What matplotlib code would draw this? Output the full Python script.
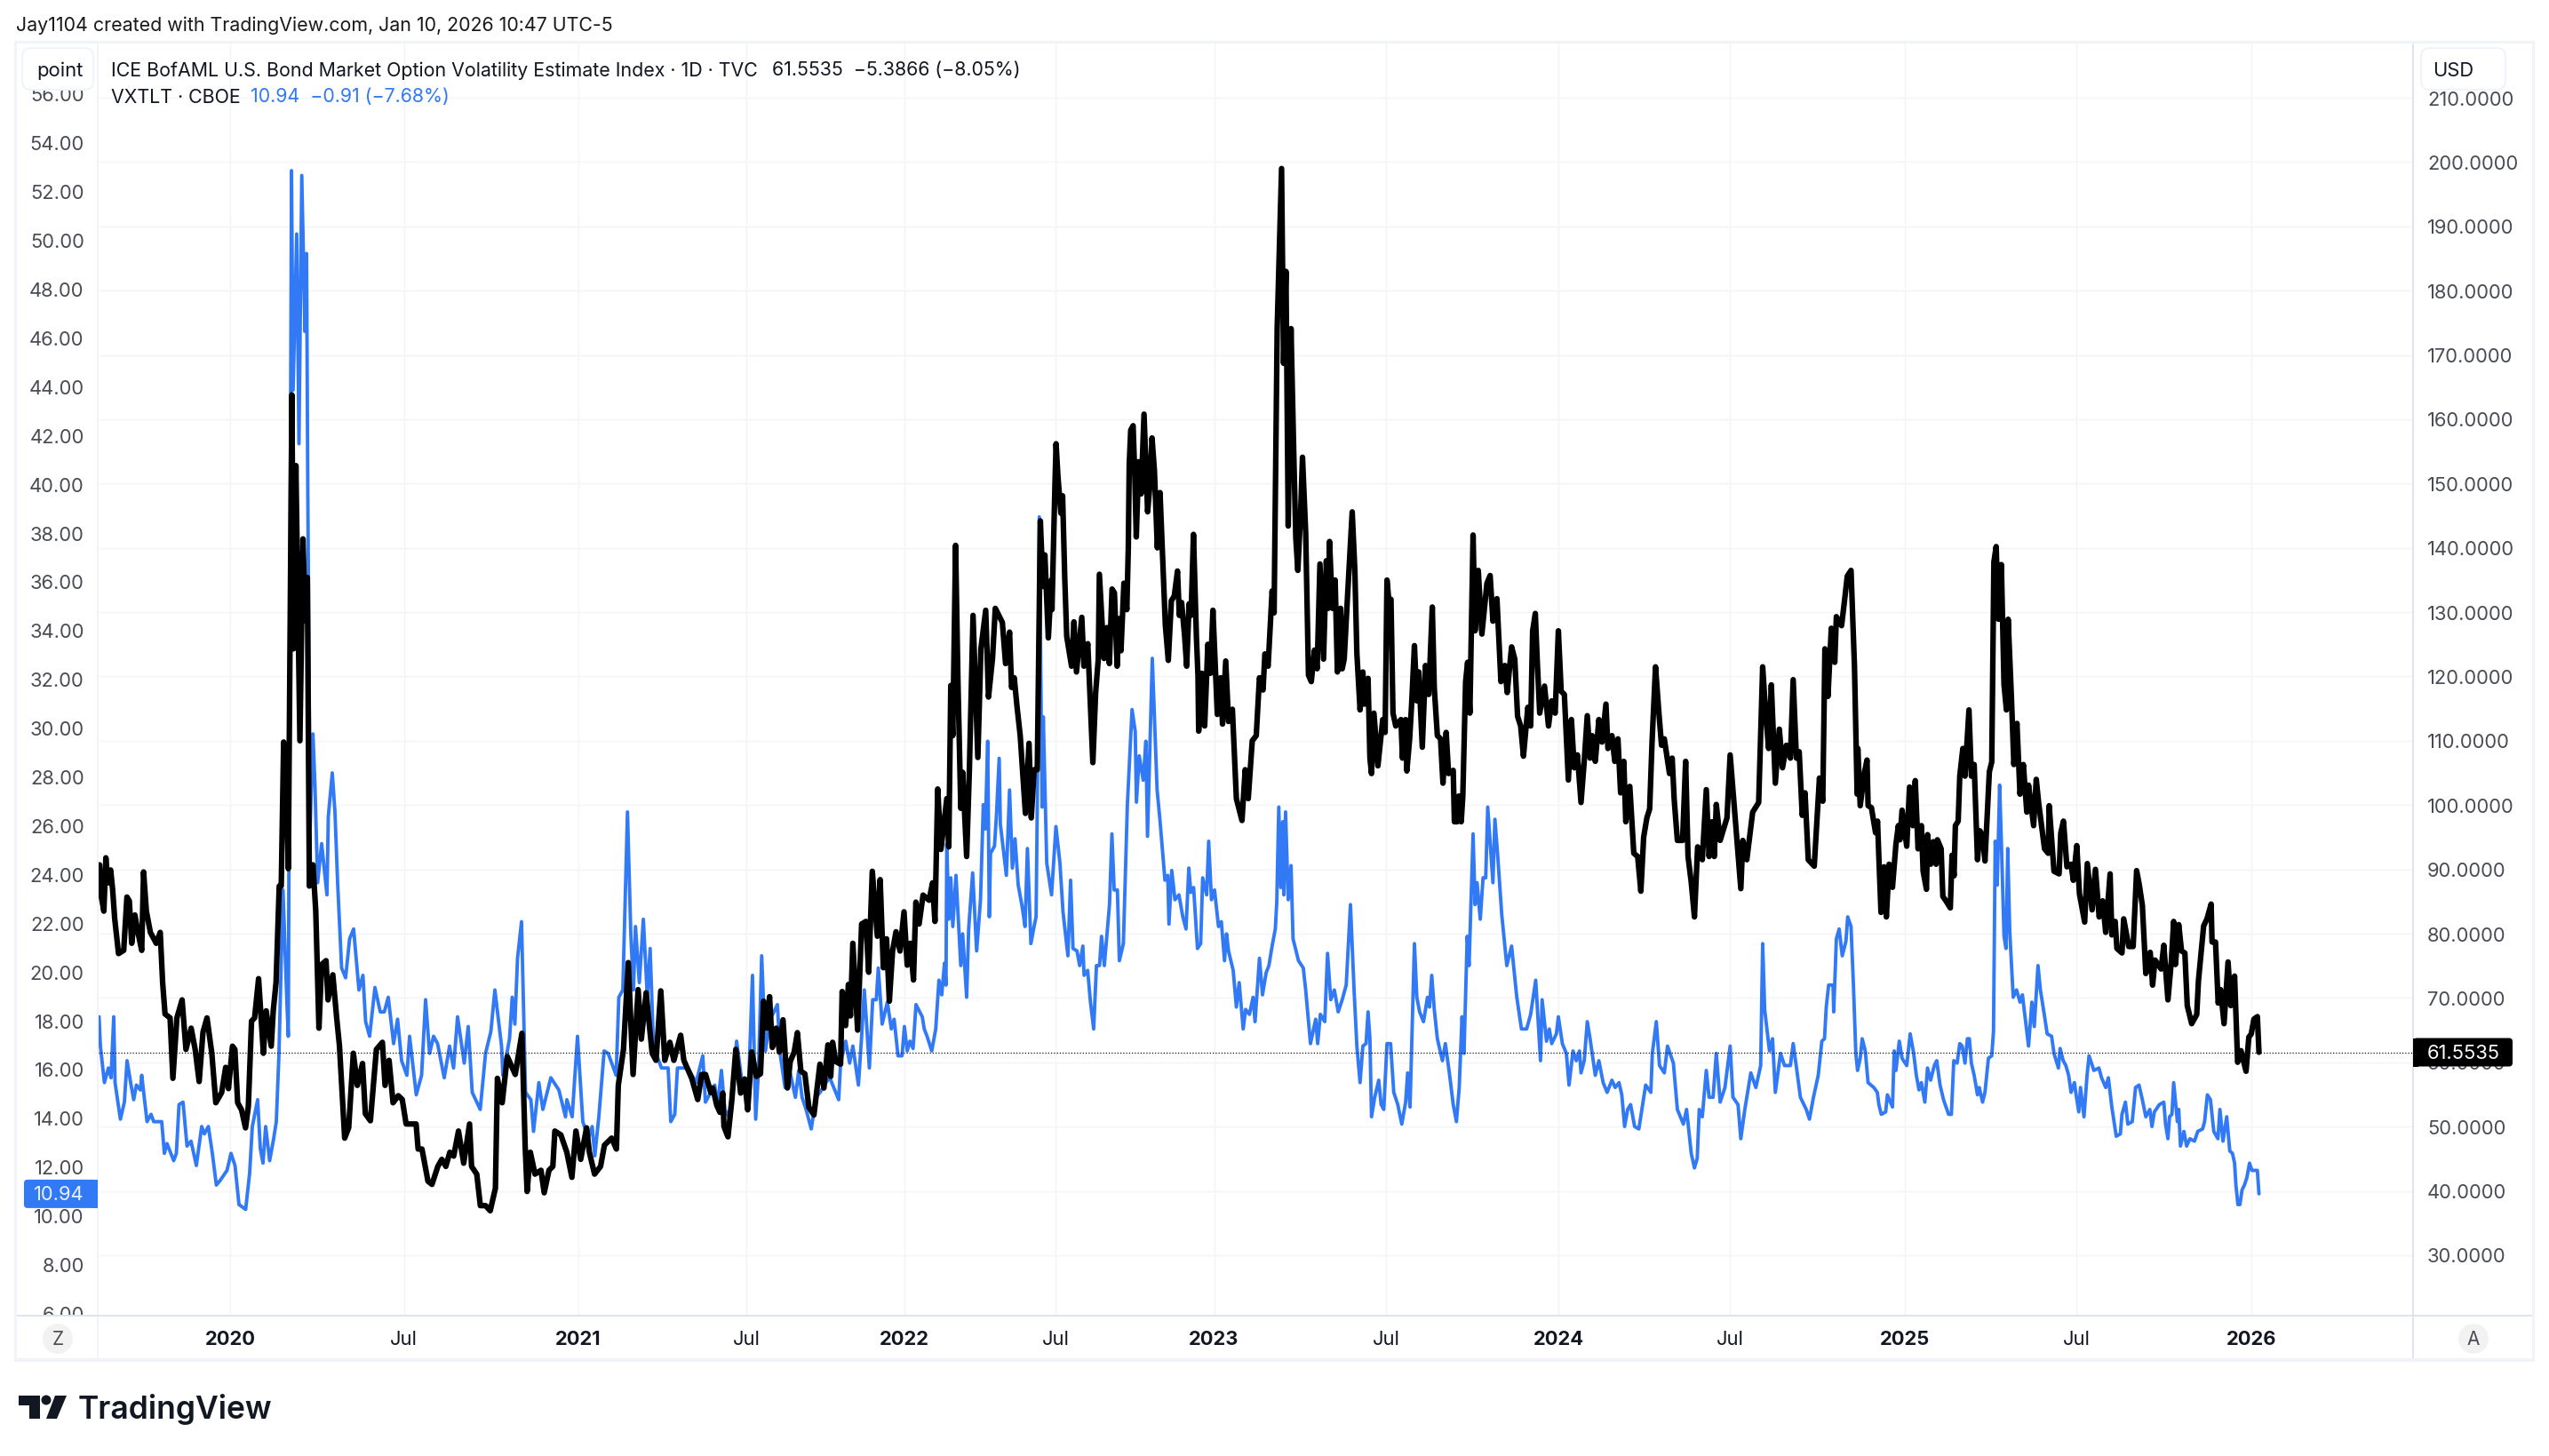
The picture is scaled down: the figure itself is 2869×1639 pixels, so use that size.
import matplotlib
matplotlib.use("Agg")
import matplotlib.pyplot as plt
from matplotlib.patches import Rectangle, FancyBboxPatch, Ellipse, Polygon
from matplotlib.transforms import ScaledTranslation

W, H = 2869, 1640

# ---------- data: (trading bar, value) ----------
black_2019_20 = [(1.4,90.7),(2.3,86.2),(4.6,83.5),(6.1,91.8),(7.6,87.9),(9.7,89.9),(11.2,86.8),(12.7,82.4),(15.6,76.9),(19.5,77.4),(21.9,85.7),(23.7,85.1),(25.5,78.5),(27.9,82.9),(30.2,80.2),(33,77.4),(34.4,89.6),(36.5,83.5),(39.5,80.2),(43.9,78.5),(46.9,80.2),(48.7,72.4),(50.5,67.5),(54.3,66.9),(56.4,57.5),(59.4,66.9),(63.3,69.7),(66.2,62),(70.1,65.3),(73.1,62),(76.1,57),(79,64.7),(82,66.9),(85.6,61.4),(88.6,53.7),(93,55.3),(96,59.2),(98.1,55.9),(101.1,62.5),(102.9,62),(105,53.7),(107.9,52.6),(110.9,49.8),(113,53.1),(115.4,66.4),(117.7,66.9),(120.7,73),(124.3,61.4),(126.4,68),(130.2,62.5),(131.7,68),(133.8,72.4),(136.2,87.4),(137.7,87.4),(139.5,109.8),(141.2,107.8),(143,90.1),(145.7,163.8),(146.9,124.3),(148.7,152.8),(151.7,110),(154,141.4),(155.8,128.7),(157.3,135.4),(158.8,87.4),(161.5,90.7),(163.6,83.5),(166,65.3),(168,75.2),(171.3,75.8),(172.8,69.7),(176.4,73.6),(179.3,66.9),(181.4,62.5),(185.3,48.2),(188.3,49.8),(191.8,61.4),(194.8,56.4),(198.7,59.8),(200.8,52),(204.6,50.9),(209.1,62),(213.6,63.1),(215.6,56.4),(218.6,60.3),(221.6,53.7),(225.5,54.8),(228.5,54.2),(231.4,50.4),(238.9,50.4),(240.4,46.5),(243.3,46.5),(247.8,41.5),(250.8,41),(255.2,43.8),(258.2,44.9),(261.2,43.8),(264.2,46),(267.1,45.4),(270.7,49.3),(274.6,44.3),(279,50.4),(280.5,43.8),(284.4,42.6),(287.1,37.7),(291,37.7),(294.5,36.9),(298.4,40.4),(299.9,57.5),(303.5,53.7),(307.3,60.9),(313.3,58.1),(318.3,64.5),(320.7,47.1),(322.2,39.9),(324.6,46),(328.1,42.6),(332.6,43.2),(335,39.7),(338.6,43.2),(341.5,43.8),(343,49.3),(347.5,48.7),(352,46),(355.8,42.1),(358.8,49.3),(362.4,44.9),(366.8,49.8),(368.9,46),(372.8,42.6),(377.3,43.8),(380.2,47.1),(385.6,48.2),(389.2,46.5),(390.6,56.4),(394.5,62),(398.1,75.5),(401.7,58.1),(405.5,71.3),(407.9,63.6),(411.5,70.8),(416,61.4),(418.9,60.3),(422.5,71.1),(425.5,60.3),(429.3,63.1),(432.3,60.3),(437.4,64.2),(439.8,60.3),(445.7,57.5),(450.2,54.2),(453.2,58.1),(456.1,58.1),(460,55.3)]

black_2021_22 = [(461.5,56),(464.5,53.3),(466.9,52.2),(469,55.2),(469.9,50),(472.9,48.4),(475.8,54.1),(478.8,62),(482.4,55.2),(485.4,57.4),(487.7,52.6),(490.7,61.6),(494.3,57.8),(497.3,58.2),(499.6,69.5),(502,65.3),(504.1,70.2),(506.2,62.3),(509.2,65.3),(511.5,61.6),(514.2,66.6),(517.5,56),(519.6,60.1),(522.6,61.6),(525,64.6),(527.6,58.6),(530.6,58.2),(533.6,53),(537.4,51.8),(541.9,59.7),(544.9,56),(547.9,62.7),(550,57.8),(551.4,63.1),(553.8,60.1),(557.4,59.7),(558.6,71),(561.2,65.7),(563.3,72.1),(564.8,67.2),(566.6,78.5),(570.2,65),(573.2,81.5),(576.4,81.9),(578.5,74),(581.2,89.7),(585,79.6),(587.1,88.4),(589.5,74.7),(591.9,79.2),(594,69.5),(596.4,77.3),(599,80.3),(602,77.3),(605,83.4),(607.4,75.1),(609.8,78.5),(612.1,72.8),(613.9,84.9),(616.3,81.5),(619.3,86),(623.8,85.2),(626.4,87.9),(628.2,81.9),(630.3,102.5),(632.7,93.1),(637.1,101),(638.6,93.5),(640.1,118.6),(641.6,110.8),(643.7,140.4),(645.5,119),(647.6,99.5),(649,105.1),(652,92),(654.1,105.9),(656.8,129.5),(660.4,107.4),(662.7,124.3),(666.3,130.3),(668.4,116.8),(671.4,122.8),(673.5,130.6),(678.8,128.4),(681.2,122),(684.2,126.9),(685.7,118.3),(687.7,119.8),(689.8,115.3),(692.2,110.8),(696.1,98.7),(698.8,109.6),(700.5,98),(702.6,105.5),(705,105.5)]

black_2022_23 = [(707.3,144.2),(709.3,134),(710.7,138.9),(713.3,126),(715.6,135),(716,130.4),(718.2,149.3),(719.1,156.2),(720.5,151.1),(722.7,145.4),(724,148.1),(725.6,135.4),(727.1,126.2),(730.7,121.6),(732.5,128.5),(734.4,120.7),(738.4,129.2),(740,121.6),(742.9,125.1),(746.7,106.6),(748.8,117.5),(750.8,122.8),(751.6,135.9),(755.1,122.8),(757.3,127.6),(759.1,122),(761.1,133.6),(762.9,133),(764.9,121.6),(766.2,129),(767.8,124),(770,134.5),(772.2,130.4),(773.3,140),(774,153),(775.1,158.3),(776.9,159),(778.2,151),(779.3,141.7),(781.1,153.4),(782.9,148.4),(785.1,160.8),(787.8,145.6),(789.3,149.3),(791.1,157.1),(792.9,152),(795.1,140),(797.1,148.6),(799.6,135.5),(801.1,128),(803.3,122.5),(805.6,131.8),(807.8,132.5),(810.2,136.4),(811.6,129.5),(813.3,131.5),(815.6,126.2),(817.1,121.6),(818.9,131.3),(820.4,129.5),(822.2,142.1),(824.4,126.2),(825.6,120),(826.1,111.5),(828.5,120.5),(830.6,112.3),(833,125),(835,120.5),(836.8,130.3),(840.1,114.1),(842.5,119.8),(844,112.6),(846.4,122.4),(848.5,113),(851.4,114.9),(854.4,101),(858.6,97.6),(861,105.5),(863.3,101),(866.3,110),(869.3,110.8),(871.7,119.8),(874.4,117.9),(875.8,123.5),(878.2,121.6),(881.2,133.3),(882.7,129.9),(885,174.1),(888.3,199),(889.8,168.7),(891.6,183),(893.3,143.4),(895.4,174.1),(897.5,154.3),(899,141.5),(900.5,136.5),(902.6,145.4),(904,154.1),(906.4,142.4),(908.5,120.2),(910.6,119.2),(913,124.1),(915,121.2),(917.1,137.5),(919.8,122.7),(921.9,138),(923.4,130.6),(924.3,141),(926.4,130.6),(928.5,135),(930.2,120.7),(932.6,130.6),(933.8,121.2),(935.3,122.7),(937.7,132.1),(941.3,145.6),(943.3,136.5),(944.8,123.6),(947.2,114.8),(949.3,120.7),(950.5,115.7),(953.2,119.7),(954.6,107.3),(955.8,104.9),(957.6,114.3),(960.6,106.1),(964.2,113.3),(966,111.3),(967.4,135),(968.9,131.6),(970.4,132),(971.9,114.3),(974,112.3),(977.9,113.3),(979,107.3),(981.4,113.3),(982.3,105.3),(984.4,110.3),(985.9,115.7),(988,124.8),(989.8,116.2),(991.3,120.7),(993.9,109),(996.3,121.7),(998.7,117.2),(1001.4,130.8),(1002.9,118.2),(1005.2,110.8),(1007.6,110.3),(1009.4,103.4),(1011.8,111.3),(1013.6,104.9),(1017.1,105.4),(1018,97.4),(1020.1,97.4),(1021.3,101.4),(1023.1,97.4),(1024.3,101.4),(1026.4,119.2),(1027.9,122.2),(1029.6,114.3),(1032,142),(1033.5,127.1),(1035.9,136.5),(1038.6,126.6),(1042.4,134.5),(1044.8,135.7),(1046.9,128.6),(1049.9,132.1),(1052.9,119.2),(1055.8,121.7),(1057.6,117.5),(1060.9,124.6),(1063.3,122.7),(1065.4,113.8),(1067.7,112.3),(1069.8,107.6),(1073.1,115.2),(1075.2,112.3),(1076.7,127.1),(1078.7,129.8),(1080.2,122.2),(1082,114.3),(1085.6,118.5),(1088.6,112.3),(1090.9,116.2),(1093.6,114.3)]

black_2024 = [(1096,127.1),(1098.1,117.7),(1100.5,117.2),(1103.5,103.9),(1105.8,113.3),(1107.9,105.8),(1110.3,107.8),(1113,100.4),(1115.4,106.8),(1117.7,113.9),(1119.8,107.3),(1121.3,110.8),(1123.7,106.8),(1126.4,113.3),(1128.8,109.8),(1131.7,115.7),(1133.2,108.8),(1136.2,110.8),(1138.3,106.8),(1140.7,110.3),(1142.7,101.9),(1145.1,106.8),(1146.6,97.4),(1149.6,102.9),(1152.6,92.5),(1155.5,92),(1157.9,86.6),(1160,95),(1162.4,98),(1164.5,99.4),(1166.3,109.8),(1168.9,121.5),(1171.3,114.7),(1173.4,109.3),(1175.5,110.3),(1179.4,104.9),(1181.4,107.3),(1182.9,100.9),(1185.3,94.5),(1189.2,94.5),(1191.5,106.8),(1193.3,92),(1195.7,88),(1198.1,82.6),(1200.5,93.5),(1204,91.5),(1207,102.4),(1209.1,92),(1211.2,97.4),(1213,92),(1214.5,100.1),(1217.4,94.5),(1222.5,98),(1224.9,107.8),(1228.5,98.4),(1232.9,87),(1234.4,94.5),(1237.4,91.5),(1241.8,98.9),(1246.3,100.4),(1249.3,121.5),(1251.7,113.8),(1253.8,108.8),(1255.8,118.7),(1258.8,103.4),(1261.8,111.8),(1264.2,105.8),(1267.1,109.3),(1270.1,107.3),(1272.2,119.5),(1274.6,107.3),(1276.7,108.3),(1279,98.4),(1281.1,101.9),(1283.5,91.5),(1288,90.5),(1291.9,104.2),(1294.4,100.6),(1296,124.3),(1298.3,116.9),(1300.8,127.5),(1303.4,122.2),(1304.6,129.3),(1308.5,127.9),(1310.5,131.4),(1312.8,135.6),(1315.6,136.5),(1318.2,121.5),(1320.2,101.7),(1320.7,108.8),(1322.5,99.9),(1325.8,105.2),(1327.6,107),(1328.4,99.9),(1330.9,99.6),(1334,95.7),(1335.5,97.5),(1336.5,91.8),(1338.1,83.3),(1340.4,90.4),(1342.1,82.6),(1344.2,90.8),(1346.7,87.2),(1349.3,93.9),(1351.1,96.8),(1352.3,94.6),(1353.9,99.2)]

black_2025 = [(1357.4,93.6),(1359.5,102.8),(1362,96.8),(1363.8,103.8),(1365.9,93.2),(1368.4,96.8),(1369.7,89.7),(1372.2,86.9),(1373,95.4),(1375.3,90.8),(1377.3,94.3),(1379.4,90.8),(1380.4,94.6),(1383.2,93.2),(1384.5,85.8),(1386.8,85.1),(1390.1,84),(1391.4,92.2),(1392.9,89),(1393.9,96.8),(1396,97.5),(1397.2,104.5),(1399.5,108.8),(1401.1,104.5),(1404.1,114.8),(1405.9,104.5),(1408,106.3),(1410.5,91.5),(1412.3,96),(1414.3,95.3),(1416.1,91.3),(1419.4,105.2),(1421.2,106.7),(1422.8,137.8),(1424.5,140.2),(1426.3,128.9),(1428.4,137.4),(1430.4,118.7),(1432.2,114.8),(1433.5,128.9),(1436,116.5),(1437.8,106.3),(1440.1,112.7),(1442.4,101.7),(1444.9,106.3),(1447.5,98.9),(1448.8,103.1),(1452.6,96.8),(1454.6,104),(1456.4,100.3),(1460.8,93.2),(1463.6,92.5),(1464.3,99.9),(1467.9,89.7),(1471.7,89.3),(1473,95.7),(1475,97.5),(1477.6,90.4),(1480.7,90.8),(1482.4,88.3),(1485,93.7),(1487,86.2),(1490.9,81.8),(1492.9,90.9),(1496.5,83.7),(1499,90),(1501.8,82.6),(1504.4,85.1),(1506.7,80.2),(1510,89.3),(1511.3,79.8),(1513.8,81.9),(1515.1,77.7),(1518.9,77),(1520.2,82.3),(1524,78),(1527.3,78),(1529.9,89.8),(1531.9,87.6),(1534.2,84.4),(1536.8,73.8),(1540.1,77.1),(1541.9,72),(1543.7,75.9),(1548.3,74.5),(1550.3,78.2),(1553.4,69.7),(1555.9,75.6),(1557.7,81.9),(1559,75.2),(1561.5,81.4),(1563.6,77.3),(1566.1,77),(1567.9,68.8),(1571.2,66),(1575,67.4),(1576.3,72.7),(1580.2,81.2),(1582.7,82.3),(1585.8,84.6),(1586.5,78.7),(1589.1,78.7),(1591.1,69.2),(1592.9,71.3),(1595.5,66),(1598.5,75.6),(1600.6,68.8),(1603.4,73.4),(1605.7,60),(1608.2,61.8),(1612,58.6),(1614.1,63.9),(1615.9,64.4),(1617.9,66.7),(1620.5,67.1),(1621.7,61.5535)]

blue_2019_20 = [(1,18.2),(2,17),(5,15.5),(8,16.1),(10,15.7),(12,18.2),(13,15.5),(17,14),(20,14.7),(22,16.4),(25,15.4),(27,14.8),(29,15.4),(32,15.2),(33,15.8),(37,13.9),(40,14.2),(42,13.9),(48,13.9),(50,12.6),(52,13),(57,12.3),(59,12.6),(61,14.6),(64,14.7),(67,12.9),(70,13.1),(74,12.1),(78,13.7),(80,13.4),(83,13.7),(86,12.6),(89,11.3),(92,11.5),(97,11.9),(100,12.6),(103,12.1),(106,10.5),(111,10.3),(114,11.8),(116,13.7),(120,14.8),(122,12.8),(124,12.2),(126,13.7),(129,12.3),(132,13.2),(134,13.9),(136,16.7),(139,23.4),(142,18.7),(143,17.4),(145.4,52.9),(146.6,43.9),(149.3,50.3),(151,41.7),(153.1,52.7),(155.5,46.3),(156.7,49.5),(157.6,39.9),(159.4,26),(161.5,29.8),(163,27.7),(165,23.7),(168,25.3),(172,23.2),(173,26.4),(176,28.2),(178,26.6),(180,23.7),(183,20.2),(186,19.8),(189,21.4),(192,21.8),(196,19.3),(199,19.9),(201,18),(204,17.4),(208,19.4),(212,18.4),(215,18.4),(218,19),(222,17.1),(225,18.1),(228,16.4),(232,15.8),(234,17.4),(239,15),(243,15.8),(246,18.9),(249,16.7),(252,17.4),(255,17.1),(260,15.7),(264,17),(267,16.1),(270,18.2),(275,16.3),(278,17.8),(281,15.1),(287,14.4),(291,16.7),(295,17.6),(298,19.3),(303,17),(304,15.8),(309,17.3),(311,19),(313,17.9),(315,20.6),(318,22.1),(321,15.1),(325,14.8),(327,13.5),(331,15.5),(334,14.4),(340,15.7),(346,15.2),(351,14.1),(352,14.8),(356,14.1),(360,17.4),(364,13.9),(368,13.2),(371,13.7),(373,12.5),(376,14.1),(380,16.8),(383,16.7),(389,15.8),(391,19),(394,19.3),(397.5,26.6),(400,21.6),(402,19.3),(403.5,21.9),(406.4,19.6),(409.4,22.2),(412.4,19),(414.5,21),(417,17),(423,16.1),(428,16.1),(430,13.9),(433,14.2),(435,16.1),(443,16.1),(449,15.5),(454,16.6),(456,14.7),(460,15.1)]

blue_2021_22 = [(463,15.4),(465,14.5),(468,16),(470.5,14.4),(473.5,14.1),(475.5,14.9),(479.4,17.2),(484,15.3),(488.3,15.3),(491.3,19.9),(493.7,14),(495.8,16),(498.2,20.7),(501,16.8),(504.7,18.1),(510,18.7),(512,16.7),(515.7,15.3),(519.6,15.9),(523.5,14.9),(526,16),(528.5,14.9),(531.5,14.4),(535.4,13.6),(539,14.9),(542,15.1),(546.4,15.5),(549.3,15.7),(556,14.8),(557.4,16.3),(561.2,17.2),(564.2,16.3),(566.6,17),(570.8,15.4),(573.2,17.4),(575.2,19.3),(576.7,18.1),(579,16.1),(581.5,18.9),(584.2,18.9),(585.7,20.2),(588.6,17.9),(592.5,18.8),(595.5,17.7),(597.6,18.1),(600.5,16.6),(603.5,16.6),(605.3,17.8),(607.4,16.8),(609.5,17.2),(611.8,16.9),(614,18.7),(618.7,18.2),(620.2,17.7),(622.3,17.4),(625.8,16.8),(628.8,17.7),(631.2,19.7),(633.3,19.1),(635.4,20.4),(636.5,19.5),(637.1,25.3),(638.6,22.2),(640.1,23.9),(641.6,21.9),(644,24),(647.6,20.3),(649,21.6),(652,19),(653.5,21.8),(656.5,24.1),(659.5,20.9),(662.4,23),(664.5,26.9),(666,25.9),(667.8,29.5),(669,22.3),(669.9,24.9),(672.9,25.2),(674.4,26.5),(676.4,28.8),(677.3,26.1),(681.8,24),(684.2,27.5),(686.3,24.3),(688.3,25.5),(690.7,23.6),(693.7,22.7),(695.8,21.9),(697.6,25.1),(700.2,21.2),(702.6,21.9),(704.1,22.3),(705,26.9),(706.5,38.7),(708.6,26.8),(709.5,30.5),(712.1,24.5),(715.7,23.2),(719,26),(722,24.5),(724.3,22.5),(728,20.7),(730,23.8),(731.8,21),(734.8,20.9),(736.8,20.3),(739.2,21.1),(740.1,19.9),(742.8,20.1),(744.9,18.8),(747.3,17.7),(749.4,20.3),(751.7,20.3),(753.2,21.5),(755.3,20.3),(759.2,22.8),(761,25.7),(762.7,23.4),(765.1,23.4),(766.6,20.5),(769.6,21.2),(772.6,26.9),(776.1,30.8),(778.5,29.9),(779.4,27),(781.5,28.9),(784.5,27.9),(786.5,29.5),(787.7,25.6),(791.3,32.9),(794.9,27.5),(797,26.3),(800.8,23.8),(802.9,24),(803.8,22),(805.9,24.2),(808.3,23),(811.3,23.2),(814.2,22.3),(816.6,21.8),(818.7,24.3),(820.2,23.3),(822.3,23.5),(825.2,21),(827.6,21.2),(829.1,23.9),(832.1,23.2),(833.6,25.4),(835.7,23),(838,23.4),(841,21.9),(843.1,22.1),(845.5,20.5),(847,21.6),(848.5,20.9),(852,20.1),(854.4,18.6),(856.5,19.6),(859.5,17.7),(861.3,18.5),(864.2,18.3),(866.9,19),(868.4,18),(871.7,20.6),(874,19.1),(876.7,20),(878.8,20.3),(881.2,21.1),(883.6,21.8)]

blue_2023_24 = [(884.7,22.9),(886.2,26.8),(887.7,23.5),(889.2,26.2),(890,23.2),(891.3,26.6),(893.3,23),(895.4,24.4),(896.9,21.4),(901,20.5),(904.6,20.2),(906.4,19.3),(910,17.1),(913.9,18.1),(915.4,17.1),(917.4,18.3),(920.7,18),(922.8,20.8),(925.2,18.9),(927.9,19.3),(930.8,18.4),(933.8,18.9),(936.8,19.5),(940,22.8),(942.7,19.3),(944.8,17),(947.2,15.5),(949.3,17),(951.7,17.1),(953.2,18.4),(954.6,17.3),(955.8,14.1),(958.2,14.9),(961.2,15.6),(963,14.6),(965,14.4),(967.4,17.1),(970.1,17.1),(972.5,15.1),(975.5,14.6),(978.5,13.8),(981.4,14.7),(982.9,15.9),(984.7,14.5),(988,21.2),(989.8,19),(991.9,18.4),(994.8,18),(997.8,19),(999.3,18.6),(1001,19.9),(1002.9,18.5),(1005.2,17.3),(1009,16.4),(1011.2,17.1),(1014.2,15.9),(1017.1,14.6),(1019.5,13.9),(1021.6,15.3),(1023.7,18.2),(1025.2,16.7),(1027.6,21.5),(1029,20.3),(1032,25.7),(1033.5,22.8),(1035,23.7),(1037.4,22.2),(1039.5,23.9),(1041.5,23.9),(1043,26.8),(1046.9,23.7),(1048.4,26.3),(1050.5,24.8),(1053.5,22.4),(1057.3,20.3),(1060.9,21.1),(1064.8,19),(1068.3,17.7),(1072.2,17.7),(1075.2,18.3),(1079,19.7),(1082.6,16.4),(1083.8,18.9),(1087.1,17.2),(1089.2,17.7),(1091,17.1),(1094.5,17.5),(1096,18.2),(1099,17.1),(1102,16.7),(1104,15.4),(1107,16.8),(1109.4,16.4),(1111.8,16.8),(1113,15.9),(1115.4,16.4),(1117.7,18),(1119.8,17.3),(1123.7,15.8),(1126.4,16.4),(1129.6,15.5),(1132.6,15.1),(1136.2,15.6),(1138.6,15.3),(1141.5,15.5),(1143.6,15),(1145.7,13.7),(1148,14.4),(1150.2,14.6),(1153.2,13.7),(1156.4,13.6),(1161.5,15.4),(1165.4,15.1),(1166.5,16.7),(1169.5,18),(1171.9,16.2),(1175.5,15.9),(1177.9,17),(1182.3,16.3),(1185.3,14.4),(1189.8,13.8),(1192.2,14.4),(1195.7,12.6),(1198.1,12),(1200.2,12.4),(1201.7,14.4),(1204,14.1),(1207,16),(1209.1,14.9),(1212.1,14.9),(1214.5,16.7),(1217.4,14.7),(1221,15.3),(1224.9,17),(1227,14.9),(1230.8,14.6),(1232.9,13.2),(1235.9,14.4),(1240.4,15.9),(1244.2,15.3),(1247.8,16.2),(1249.3,21.2),(1250.8,18.5),(1254.4,16.8),(1256.7,17.3),(1258.8,15.1),(1262.7,16.7),(1265.7,16.2),(1270.1,16.2),(1272.2,17.1),(1275.2,15.9),(1277.6,14.9),(1282,14.4),(1284.4,14),(1287.4,14.9),(1291,15.8)]

blue_2024_25 = [(1293.7,17.2),(1295.7,17.3),(1297,18.6),(1298.8,19.5),(1302.1,19.5),(1302.6,18.4),(1304.6,21.4),(1306.7,21.8),(1309,20.7),(1311.8,21.3),(1313.1,22.3),(1315.6,21.9),(1317.4,19.5),(1319.2,16.7),(1320.5,16),(1322.5,16.5),(1324,17.3),(1326.3,16.8),(1328.4,15.5),(1332.7,15.3),(1335.3,15.1),(1336.5,14.6),(1338.3,14.2),(1341.6,14.3),(1342.9,15),(1346.7,14.5),(1348,16.8),(1349.3,16),(1351.8,17.2),(1353.9,16.5),(1357.4,16.2),(1360,17.5),(1362.6,16.7),(1364.6,15.8),(1366.6,15.2),(1368.4,15.5),(1371,14.7),(1373,16.1),(1375.3,15.6),(1378.1,16.2),(1379.9,16.4),(1382.4,15.4),(1385,14.8),(1388.8,14.2),(1390.9,14.2),(1392.7,16.4),(1395.2,16.3),(1397.2,17.1),(1399,17),(1401.1,16.3),(1402.9,17.3),(1404.4,17.3),(1405.9,16.3),(1408,15.8),(1410.5,15),(1411.8,15.3),(1414.3,14.7),(1416.1,15.1),(1418.7,16.5),(1421.2,16.6),(1422.5,17.6),(1423.8,25.4),(1425.3,23.6),(1427.1,27.7),(1428.4,25.4),(1430.4,21.5),(1431.9,21),(1433.2,25.1),(1434.7,21.7),(1437.3,19),(1439.8,19.3),(1442.4,18.8),(1444.2,19.1),(1447.5,17.6),(1448.8,17),(1451.3,18.8),(1453.1,17.8),(1455.9,20.3),(1457.7,19.3),(1460.3,18.4),(1462.8,17.5),(1466.1,17.4),(1467.9,16.7),(1471.2,16.1),(1472.5,16.9),(1474.8,16.4),(1476.8,16.2),(1478.9,15.8),(1480.7,15.1),(1483.2,15.5),(1484.5,15),(1486.5,14.3),(1487.8,15.3),(1490.4,14.1),(1492.7,15.8),(1494.2,16.6),(1497.8,16),(1501.6,16.1),(1503.6,15.7),(1506.7,15.3),(1508.7,15.7),(1511.3,14.5),(1514.6,13.3),(1517.7,13.4),(1518.9,14.2),(1521.5,14.7),(1523.3,13.8),(1526.6,13.9),(1529.1,15.3),(1531.7,15.4),(1534.2,14.8),(1536.8,14.1),(1539.8,14.4),(1541.4,13.7),(1543.2,14.3),(1547,14.6),(1550.3,14.7),(1551.6,13.8),(1553.4,13.2),(1554.6,14.1),(1556.4,14.2),(1557.7,15.5),(1560.5,13.9),(1561.5,14.4),(1562.8,12.9),(1565.4,13.5),(1567.4,12.9),(1569.9,13.2),(1573.3,13.1),(1575.8,13.5),(1579.4,13.6),(1580.9,13.9),(1583,15),(1585.3,14.8),(1587.8,13.5),(1590.9,13.2),(1592.4,14.4),(1594.7,13.1),(1597.5,14.1),(1599.8,12.7),(1601.8,12.6),(1603.4,12.2),(1604.4,11.3),(1605.9,10.5),(1607.4,10.5),(1609,11.1),(1610.8,11.3),(1612.6,11.6),(1614.6,12.2),(1616.4,11.9),(1620.5,11.9),(1621.7,10.94)]

time_tick_bars = [99.6,229.7,360.7,486.7,605,718.7,837.7,966.7,1096,1224.7,1356,1484.7,1616.3]
time_tick_labels = ["2020","Jul","2021","Jul","2022","Jul","2023","Jul","2024","Jul","2025","Jul","2026"]
left_ticks = list(range(6, 58, 2))
right_ticks = list(range(30, 220, 10))
last_black = 61.5535
last_blue = 10.94

# ---------- styling ----------
plt.rcParams["font.family"] = ["Inter", "DejaVu Sans"]
BLUE, BLACK = "#3179F5", "#000000"
GRID, FRAME, SEP = "#F3F4F7", "#F0F3FA", "#E0E3EB"
LABEL, DARK = "#4A4C55", "#131722"
FS = 15.8
HEAD_FS = 15.4

fig = plt.figure(figsize=(W/100, H/100), dpi=100, facecolor="white")
L, R, T, B = 110, 2716, 50, 1482
rect = [L/W, 1-B/H, (R-L)/W, (B-T)/H]

ax_g = fig.add_axes(rect, zorder=1)
ax_l = fig.add_axes(rect, zorder=2, sharex=ax_g)
ax_r = fig.add_axes(rect, zorder=3, sharex=ax_g)
for a in (ax_g, ax_l, ax_r):
    for s in a.spines.values():
        s.set_visible(False)
ax_l.patch.set_visible(False)
ax_r.patch.set_visible(False)

ax_g.set_xlim(0, 1737.33)
ax_g.set_ylim(20.59, 218.44)
ax_r.set_ylim(20.59, 218.44)
ax_l.set_ylim(5.945, 58.11)

ax_g.set_xticks(time_tick_bars)
ax_g.set_xticklabels([])
ax_g.yaxis.tick_right()
ax_g.set_yticks(right_ticks)
ax_g.set_yticklabels([f"{v:.4f}" for v in right_ticks], ha="left")
ax_g.grid(True, color=GRID, lw=1.0)
ax_g.set_axisbelow(True)
ax_g.tick_params(axis="y", length=0, pad=11.5, labelsize=FS, labelcolor=LABEL)
ax_g.tick_params(axis="x", length=0)

ax_l.set_yticks(left_ticks)
ax_l.set_yticklabels([f"{v:.2f}" for v in left_ticks])
ax_l.tick_params(axis="y", length=0, pad=11, labelsize=FS, labelcolor=LABEL)
ax_l.tick_params(axis="x", length=0, labelbottom=False)
ax_r.tick_params(axis="both", length=0, labelleft=False, labelbottom=False)
ax_r.set_yticks([])

# nudge value labels up to sit as in the reference
nudge_l = ScaledTranslation(0, 1.5/100, fig.dpi_scale_trans)
nudge_r = ScaledTranslation(0, 0.5/100, fig.dpi_scale_trans)
for lab in ax_l.get_yticklabels():
    lab.set_transform(lab.get_transform() + nudge_l)
for lab in ax_g.get_yticklabels():
    lab.set_transform(lab.get_transform() + nudge_r)

blue = blue_2019_20 + blue_2021_22 + blue_2023_24 + blue_2024_25
black = black_2019_20 + black_2021_22 + black_2022_23 + black_2024 + black_2025
ax_l.plot([p[0] for p in blue], [p[1] for p in blue], color=BLUE, lw=2.8,
          solid_joinstyle="round", solid_capstyle="round")
ax_r.plot([p[0] for p in black], [p[1] for p in black], color=BLACK, lw=4.5,
          solid_joinstyle="round", solid_capstyle="round")
ax_r.axhline(last_black, color="#111111", lw=0.9, ls=(0, (1, 1.6)), zorder=1)

# ---------- chrome, in picture pixels ----------
def fx(x): return x/W
def fy(y): return 1-y/H
def box(x0, y0, x1, y1, fc="white", ec="none", lw=0, z=5):
    fig.add_artist(Rectangle((fx(x0), fy(y1)), (x1-x0)/W, (y1-y0)/H, transform=fig.transFigure,
                             fc=fc, ec=ec, lw=lw, zorder=z))
def rbox(x0, y0, x1, y1, rad, fc="white", ec="none", lw=0, z=6):
    fig.add_artist(FancyBboxPatch((x0+rad, H-y1+rad), x1-x0-2*rad, y1-y0-2*rad,
                                  boxstyle=f"round,pad={rad},rounding_size={rad}", transform=None,
                                  fc=fc, ec=ec, lw=lw, zorder=z))
def txt(x, y, s, **kw):
    kw.setdefault("fontsize", FS)
    kw.setdefault("color", DARK)
    kw.setdefault("va", "center")
    kw.setdefault("zorder", 8)
    return fig.text(fx(x), fy(y), s, **kw)

# mask under the time axis (clips 6.00), then separators and frame
box(0, B, W, 1640, fc="white", z=5)
box(0, 0, 18, 1640, fc="white", z=5)
box(L-1, B, L+1, 1531, fc=FRAME, z=6)
box(L-1, 50, L+1, B, fc=FRAME, z=6)
box(18, B-1, 2851, B+1, fc=SEP, z=6)
box(R-1, 50, R+1, 1531, fc=SEP, z=6)
box(16, 47, 2853, 50, fc=FRAME, z=6)
box(16, 1530, 2853, 1534, fc=FRAME, z=6)
box(16, 47, 19, 1534, fc=FRAME, z=6)
box(2850, 47, 2853, 1534, fc=FRAME, z=6)
box(0, 0, W, 47, fc="white", z=5)
box(2853, 0, W, 1640, fc="white", z=5)

# header
txt(18, 29, "Jay1104 created with TradingView.com, Jan 10, 2026 10:47 UTC-5", fontsize=HEAD_FS, color="#1a1a1a")
rbox(25, 55, 105, 102, 10, fc="white", ec=FRAME, lw=1.5)
txt(67, 79.5, "point", ha="center")
rbox(2725, 55, 2820, 102, 10, fc="white", ec=FRAME, lw=1.5)
txt(2738, 79.5, "USD", ha="left")
txt(125, 79.5, "ICE BofAML U.S. Bond Market Option Volatility Estimate Index · 1D · TVC", ha="left", fontsize=HEAD_FS)
txt(869, 79.5, "61.5535  −5.3866 (−8.05%)", ha="left", fontsize=HEAD_FS)
txt(125, 109.5, "VXTLT · CBOE", ha="left", fontsize=HEAD_FS)
txt(282, 109.5, "10.94  −0.91 (−7.68%)", ha="left", color=BLUE, fontsize=HEAD_FS)

# price tags and time labels placed from the data values
fig.canvas.draw()
yb = ax_r.transData.transform((0, last_black))[1]
yl = ax_l.transData.transform((0, last_blue))[1]
rbox(R, H-yb-16, 2828, H-yb+16, 4, fc="#000000", z=6)
box(R, H-yb-16, R+6, H-yb+16, fc="#000000", z=6)
txt(2732, H-yb, f"{last_black:.4f}", color="white", ha="left")
rbox(27, H-yl-16, L, H-yl+16, 4, fc=BLUE, z=6)
box(L-6, H-yl-16, L, H-yl+16, fc=BLUE, z=6)
txt(94.6, H-yl, f"{last_blue:.2f}", color="#EAF1FE", ha="right")
for bar, label in zip(time_tick_bars, time_tick_labels):
    xp = ax_g.transData.transform((bar, 0))[0]
    txt(xp, 1508, label, ha="center",
        fontweight="normal" if label == "Jul" else "bold")

# Z / A buttons
for cx, s in ((65, "Z"), (2784, "A")):
    fig.add_artist(Ellipse((fx(cx), fy(1508)), 34/W, 34/H, transform=fig.transFigure, fc="#F2F2F2", ec="none", zorder=7))
    txt(cx, 1508, s, ha="center", fontsize=15, color=LABEL)

# logo
for pts in ([(21, 1572), (45, 1572), (45, 1598), (33, 1598), (33, 1583), (21, 1583)],
            [(62, 1572), (75, 1572), (64, 1598), (52, 1598)]):
    fig.add_artist(Polygon([(fx(a), fy(b)) for a, b in pts], closed=True, transform=fig.transFigure,
                           fc="#131722", ec="none", zorder=7))
fig.add_artist(Ellipse((fx(52), fy(1577)), 11/W, 11/H, transform=fig.transFigure, fc="#131722", ec="none", zorder=7))
txt(88, 1586.5, "TradingView", ha="left", fontsize=25.5, fontweight="semibold", color="#131722")

fig.savefig("out.png", dpi=100, facecolor="white")
